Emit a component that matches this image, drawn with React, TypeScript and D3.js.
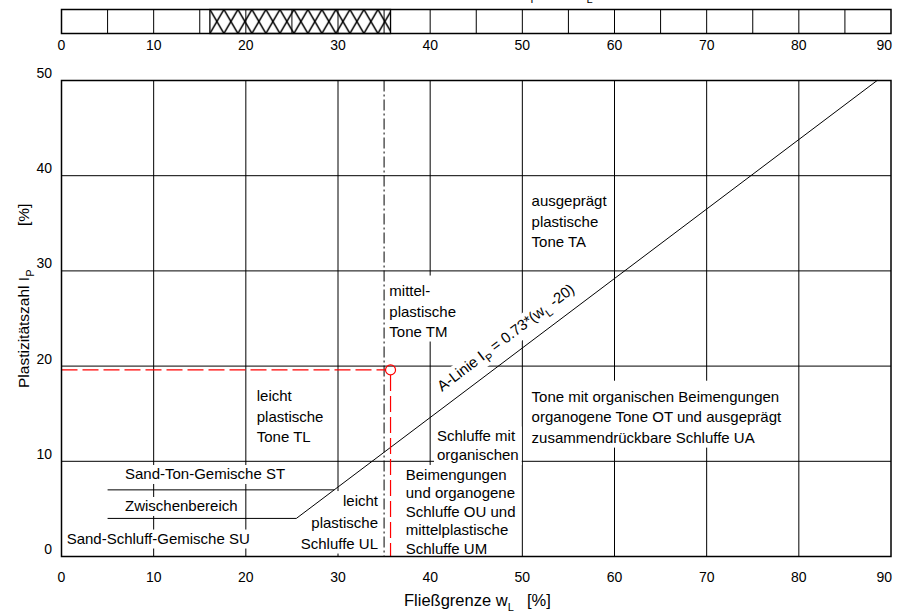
import React, { useEffect, useRef } from "react";
import * as d3 from "d3";

const W = 900;
const H = 613;

// axis ticks
const xTicks = [0, 10, 20, 30, 40, 50, 60, 70, 80, 90];
const yTicks = [0, 10, 20, 30, 40, 50];
const barCells = [0, 5, 10, 15, 20, 25, 30, 35, 40, 45, 50, 55, 60, 65, 70, 75, 80, 85, 90];

// sample
const liquidLimit = 35.7; // w_L
const plasticLimit = 16.1; // w_P
const plasticityIndex = 19.6; // I_P

// A-line I_P = 0.73 * (w_L - 20)
const aLineSlope = 0.73;
const aLineShift = 20;
const aLineFrom = 4;
const aLineTo = 50;

// ST / SU boundaries
const boundaryLevels = [4, 7];
const boundaryStartW = 5;
const tmBoundaryW = 35;

const regionLabels = [
  { lines: ["ausgeprägt", "plastische", "Tone TA"], w: 51.0, ip: 36.8, lh: 20.5, padTop: 15 },
  { lines: ["mittel-", "plastische", "Tone TM"], w: 35.57, ip: 27.36, lh: 20.5, padTop: 20.5 },
  { lines: ["leicht", "plastische", "Tone TL"], w: 21.18, ip: 16.33, lh: 20.7, padTop: 15 },
  { lines: ["Schluffe mit", "organischen"], w: 40.74, ip: 12.08, lh: 19, padTop: 15 },
  {
    lines: ["Beimengungen", "und organogene", "Schluffe OU und", "mittelplastische", "Schluffe UM"],
    w: 37.35, ip: 8.04, lh: 18.4, padTop: 15,
  },
  {
    lines: ["Tone mit organischen Beimengungen", "organogene Tone OT und ausgeprägt", "zusammendrückbare Schluffe UA"],
    w: 51.0, ip: 16.28, lh: 20.8, padTop: 20.8,
  },
  { lines: ["leicht", "plastische", "Schluffe UL"], w: 34.34, ip: 5.3, lh: 21.5, padTop: 15, anchor: "end" },
  { lines: ["Sand-Ton-Gemische ST"], w: 6.89, ip: 8.09, lh: 20, padTop: 14.5 },
  { lines: ["Zwischenbereich"], w: 6.89, ip: 4.73, lh: 20, padTop: 14.5 },
  { lines: ["Sand-Schluff-Gemische SU"], w: 0.56, ip: 1.31, lh: 20, padTop: 14.5 },
];

const FONT = "Arial, 'Liberation Sans', Helvetica, sans-serif";

export default function App() {
  const ref = useRef<SVGSVGElement>(null);

  useEffect(() => {
    const svg = d3.select(ref.current);
    svg.selectAll("*").remove();

    const x = d3.scaleLinear().domain([0, 90]).range([61.5, 891]);
    const y = d3.scaleLinear().domain([0, 50]).range([556.5, 80.5]);
    const aLine = (w: number) => aLineSlope * (w - aLineShift);
    const aLineW = (ip: number) => aLineShift + ip / aLineSlope;

    const barTop = 9.5;
    const barH = 24;

    svg.append("rect").attr("width", W).attr("height", H).attr("fill", "#fff");

    const defs = svg.append("defs");
    const pat = defs
      .append("pattern")
      .attr("id", "xhatch")
      .attr("patternUnits", "userSpaceOnUse")
      .attr("x", x(plasticLimit))
      .attr("y", barTop)
      .attr("width", 14)
      .attr("height", barH);
    pat
      .append("path")
      .attr("d", `M0,0L14,${barH}M14,0L0,${barH}`)
      .attr("stroke", "#000")
      .attr("stroke-width", 1.5)
      .attr("fill", "none");

    // grid
    const grid = svg.append("g").attr("stroke", "#000").attr("stroke-width", 1);
    grid
      .selectAll("line.gv")
      .data(xTicks.slice(1, -1))
      .join("line")
      .attr("class", "gv")
      .attr("x1", d => x(d))
      .attr("x2", d => x(d))
      .attr("y1", y(0))
      .attr("y2", y(50));
    grid
      .selectAll("line.gh")
      .data(yTicks.slice(1, -1))
      .join("line")
      .attr("class", "gh")
      .attr("x1", x(0))
      .attr("x2", x(90))
      .attr("y1", d => y(d))
      .attr("y2", d => y(d));

    // ST / SU boundaries
    svg
      .append("g")
      .selectAll("line")
      .data(boundaryLevels)
      .join("line")
      .attr("x1", x(boundaryStartW))
      .attr("x2", d => x(aLineW(d)))
      .attr("y1", d => y(d))
      .attr("y2", d => y(d))
      .attr("stroke", "#000")
      .attr("stroke-width", 1);

    // w_L = 35 dash-dot
    svg
      .append("line")
      .attr("x1", x(tmBoundaryW))
      .attr("x2", x(tmBoundaryW))
      .attr("y1", y(50))
      .attr("y2", y(0))
      .attr("stroke", "#000")
      .attr("stroke-width", 1)
      .attr("stroke-dasharray", "11,3,2,3");

    // region labels with white boxes
    regionLabels.forEach(l => {
      const g = svg.append("g");
      const rect = g.append("rect").attr("fill", "#fff");
      const t = g
        .append("text")
        .attr("x", x(l.w))
        .attr("y", y(l.ip))
        .attr("text-anchor", l.anchor || "start")
        .attr("font-family", FONT)
        .attr("font-size", 15)
        .attr("fill", "#000");
      l.lines.forEach((s, i) =>
        t.append("tspan").attr("x", x(l.w)).attr("dy", i === 0 ? 0 : l.lh).text(s)
      );
      const bb = (t.node() as SVGTextElement).getBBox();
      const top = y(l.ip) - l.padTop;
      const bottom = y(l.ip) + (l.lines.length - 1) * l.lh + 4.5;
      rect
        .attr("x", bb.x - 3)
        .attr("width", bb.width + 6)
        .attr("y", top)
        .attr("height", bottom - top);
    });

    // A-line
    svg
      .append("line")
      .attr("x1", x(aLineW(aLineFrom)))
      .attr("y1", y(aLineFrom))
      .attr("x2", x(aLineW(aLineTo)))
      .attr("y2", y(aLineTo))
      .attr("stroke", "#000")
      .attr("stroke-width", 1);

    const w0 = 41.28;
    const angle =
      (Math.atan2(y(aLine(w0)) - y(aLine(w0 + 10)), x(w0 + 10) - x(w0)) * 180) / Math.PI;
    const lg = svg
      .append("g")
      .attr("transform", `translate(${x(w0)},${y(aLine(w0))}) rotate(${-angle})`);
    const lrect = lg.append("rect").attr("fill", "#fff");
    const lt = lg
      .append("text")
      .attr("x", 10)
      .attr("y", -13.3)
      .attr("font-family", FONT)
      .attr("font-size", 15)
      .attr("fill", "#000");
    lt.append("tspan").text("A-Linie I");
    lt.append("tspan").attr("dy", 5).attr("font-size", 11).text("P");
    lt.append("tspan").attr("dy", -5).text(" = 0.73*(w");
    lt.append("tspan").attr("dy", 5).attr("font-size", 11).text("L");
    lt.append("tspan").attr("dy", -5).text(" -20)");
    const lbb = (lt.node() as SVGTextElement).getBBox();
    lrect
      .attr("x", lbb.x - 3)
      .attr("y", -28)
      .attr("width", lbb.width + 6)
      .attr("height", 22);

    // sample point
    const red = "#ff0000";
    svg
      .append("line")
      .attr("x1", x(0))
      .attr("x2", x(liquidLimit) - 5)
      .attr("y1", y(plasticityIndex))
      .attr("y2", y(plasticityIndex))
      .attr("stroke", red)
      .attr("stroke-width", 1.2)
      .attr("stroke-dasharray", "16,5");
    svg
      .append("line")
      .attr("x1", x(liquidLimit))
      .attr("x2", x(liquidLimit))
      .attr("y1", y(plasticityIndex) + 5)
      .attr("y2", y(0))
      .attr("stroke", red)
      .attr("stroke-width", 1.2)
      .attr("stroke-dasharray", "16,5");
    svg
      .append("circle")
      .attr("cx", x(liquidLimit))
      .attr("cy", y(plasticityIndex))
      .attr("r", 5)
      .attr("fill", "none")
      .attr("stroke", red)
      .attr("stroke-width", 1.2);

    // frame
    svg
      .append("rect")
      .attr("x", x(0))
      .attr("y", y(50))
      .attr("width", x(90) - x(0))
      .attr("height", y(0) - y(50))
      .attr("fill", "none")
      .attr("stroke", "#000")
      .attr("stroke-width", 1.5);

    // tick labels
    const lab = svg
      .append("g")
      .attr("font-family", FONT)
      .attr("font-size", 14)
      .attr("fill", "#000");
    [50, 582].forEach(by => {
      lab
        .append("g")
        .selectAll("text")
        .data(xTicks)
        .join("text")
        .attr("x", (d, i) => (i === xTicks.length - 1 ? x(d) + 1 : x(d)))
        .attr("y", by)
        .attr("text-anchor", (d, i) => (i === xTicks.length - 1 ? "end" : "middle"))
        .text(d => d);
    });
    lab
      .append("g")
      .selectAll("text")
      .data(yTicks)
      .join("text")
      .attr("x", 52)
      .attr("y", d => y(d) - 2.5)
      .attr("text-anchor", "end")
      .text(d => d);

    // top bar: range w_P .. w_L
    svg
      .append("rect")
      .attr("x", x(plasticLimit))
      .attr("y", barTop)
      .attr("width", x(liquidLimit) - x(plasticLimit))
      .attr("height", barH)
      .attr("fill", "url(#xhatch)")
      .attr("stroke", "#000")
      .attr("stroke-width", 1.3);
    svg
      .append("g")
      .selectAll("line")
      .data(barCells.slice(1, -1))
      .join("line")
      .attr("x1", d => x(d))
      .attr("x2", d => x(d))
      .attr("y1", barTop)
      .attr("y2", barTop + barH)
      .attr("stroke", "#000")
      .attr("stroke-width", 1);
    svg
      .append("rect")
      .attr("x", x(0))
      .attr("y", barTop)
      .attr("width", x(90) - x(0))
      .attr("height", barH)
      .attr("fill", "none")
      .attr("stroke", "#000")
      .attr("stroke-width", 1.5);

    // caption above the bar (only its subscripts reach into the picture)
    const cap = svg
      .append("text")
      .attr("y", -2)
      .attr("font-family", FONT)
      .attr("font-size", 16.5)
      .attr("fill", "#000");
    const capHead = cap.append("tspan").text("Plastischer Bereich zwischen w");
    cap.append("tspan").attr("dy", 5).attr("font-size", 11).text("P");
    cap.append("tspan").attr("dy", -5).text(" und w");
    cap.append("tspan").attr("dy", 5).attr("font-size", 11).text("L");
    const headLen = (capHead.node() as SVGTextContentElement).getComputedTextLength();
    cap.attr("x", 530.5 - headLen);

    // axis titles
    const xt = svg
      .append("text")
      .attr("x", 404)
      .attr("y", 606)
      .attr("font-family", FONT)
      .attr("font-size", 16.5)
      .attr("fill", "#000");
    xt.append("tspan").text("Fließgrenze w");
    xt.append("tspan").attr("dy", 5).attr("font-size", 11).text("L");
    xt.append("tspan").attr("x", 527).attr("dy", -5).text("[%]");

    const yt = svg
      .append("text")
      .attr("transform", "translate(28.5,388) rotate(-90)")
      .attr("font-family", FONT)
      .attr("font-size", 15.5)
      .attr("fill", "#000");
    yt.append("tspan").text("Plastizitätszahl I");
    yt.append("tspan").attr("dy", 5).attr("font-size", 11).text("P");
    yt.append("tspan").attr("x", 162).attr("dy", -5).text("[%]");
  }, []);

  return (
    <svg
      ref={ref}
      width={W}
      height={H}
      style={{ position: "absolute", left: 0, top: 0, display: "block" }}
    />
  );
}
